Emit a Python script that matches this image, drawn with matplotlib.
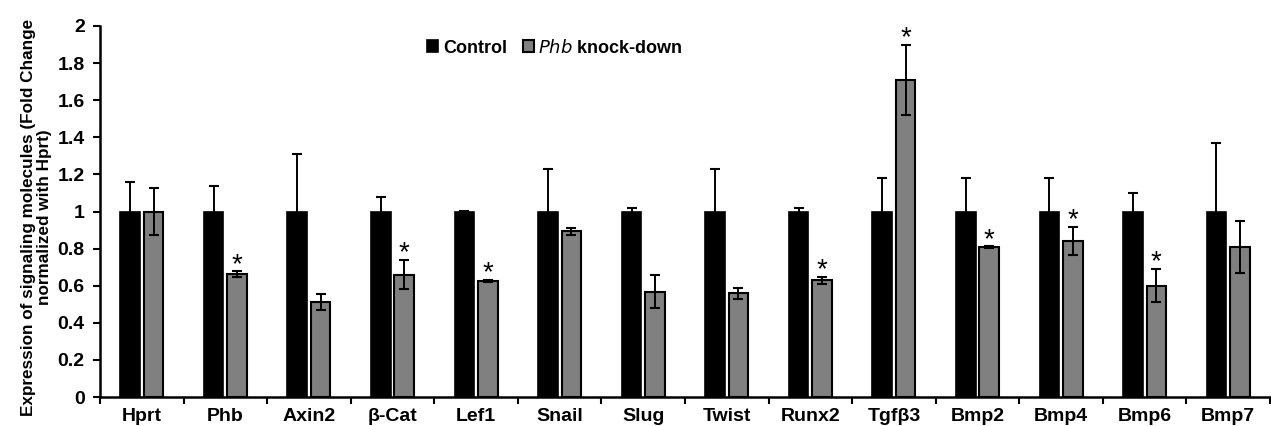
import matplotlib
matplotlib.use("Agg")
import matplotlib.pyplot as plt
import numpy as np
from matplotlib.ticker import FixedLocator

plt.rcParams['font.family'] = ['Liberation Sans', 'DejaVu Sans']

categories = ["Hprt", "Phb", "Axin2", "\u03b2-Cat", "Lef1", "Snail", "Slug", "Twist",
              "Runx2", "Tgf\u03b23", "Bmp2", "Bmp4", "Bmp6", "Bmp7"]
control = [1, 1, 1, 1, 1, 1, 1, 1, 1, 1, 1, 1, 1, 1]
control_err = [0.16, 0.14, 0.31, 0.08, 0.003, 0.23, 0.02, 0.23, 0.02, 0.18, 0.18, 0.18, 0.10, 0.37]
knockdown = [1.0, 0.663, 0.514, 0.66, 0.625, 0.893, 0.568, 0.559, 0.629, 1.709, 0.807, 0.841, 0.60, 0.809]
knockdown_err = [0.125, 0.015, 0.043, 0.08, 0.005, 0.02, 0.09, 0.03, 0.02, 0.19, 0.005, 0.077, 0.09, 0.14]
significant = [False, True, False, True, True, False, False, False, True, True, True, True, True, False]

fig = plt.figure(figsize=(12.71, 4.26), dpi=100)
ax = fig.add_axes([0.0787, 0.068, 0.9205, 0.871])

x = np.arange(len(categories))
w = 0.235
off = 0.14
ax.bar(x - off, control, w, color='black', edgecolor='black', linewidth=1.2, label='Control', zorder=2)
ax.errorbar(x - off, control, yerr=control_err, fmt='none', ecolor='black', elinewidth=1.4,
            capsize=3.5, capthick=1.5, zorder=3)
ax.bar(x + off, knockdown, w, color='#808080', edgecolor='black', linewidth=1.5,
       label='$\\bf{\\it{Phb}}$ knock-down', zorder=2)
ax.errorbar(x + off, knockdown, yerr=knockdown_err, fmt='none', ecolor='black', elinewidth=1.4,
            capsize=3.5, capthick=1.5, zorder=3)

for xi, v, e, s in zip(x, knockdown, knockdown_err, significant):
    if s:
        ax.text(xi + off, v + e - 0.035, '*', ha='center', va='bottom', fontsize=20, color='black')

ax.set_xlim(-0.5, len(categories) - 0.5)
ax.set_ylim(0, 2)
ax.set_yticks(np.arange(0, 2.01, 0.2))
ax.set_yticklabels(['0', '0.2', '0.4', '0.6', '0.8', '1', '1.2', '1.4', '1.6', '1.8', '2'],
                   fontsize=14, fontweight='bold')
ax.set_xticks(x)
ax.set_xticklabels(categories, fontsize=14, fontweight='bold')
ax.tick_params(axis='x', which='major', length=0, pad=8)
ax.xaxis.set_minor_locator(FixedLocator(np.arange(-0.5, len(categories), 1.0)))
ax.tick_params(axis='x', which='minor', length=5, width=1.5, direction='out')
ax.tick_params(axis='y', length=5, width=1.5, direction='out', pad=6)

for sp in ['top', 'right']:
    ax.spines[sp].set_visible(False)
ax.spines['left'].set_linewidth(1.8)
ax.spines['bottom'].set_linewidth(1.8)

fig.text(0.0285, 0.49, 'Expression of signaling molecules (Fold Change\nnormalized with Hprt)',
         rotation=90, ha='center', va='center', fontsize=12.3, fontweight='bold',
         linespacing=1.05, multialignment='center')

leg = ax.legend(loc='upper left', bbox_to_anchor=(0.266, 1.01), ncol=2, frameon=False,
                handlelength=0.6, handleheight=0.6, handletextpad=0.25, columnspacing=0.9,
                prop={'size': 13, 'weight': 'bold'})

fig.savefig('out.png', dpi=100)
